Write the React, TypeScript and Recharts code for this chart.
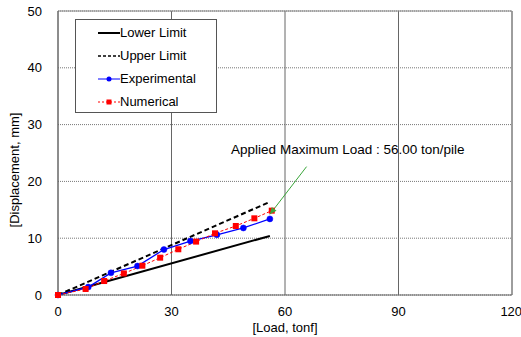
import React from "react";
import {
  LineChart, Line, XAxis, YAxis, CartesianGrid, Legend, ReferenceLine, ReferenceDot, Label,
} from "recharts";

const lowerLimit = [{ x: 0, y: 0 }, { x: 56, y: 10.4 }];
const upperLimit = [{ x: 0, y: 0 }, { x: 56, y: 16.4 }];
const expLoads = [0, 8, 14, 21, 28, 35, 42, 49, 56];
const expDisp = [0, 1.4, 3.9, 5.1, 8.0, 9.5, 10.6, 11.8, 13.4];
const numLoads = [0, 7.3, 12.2, 17.4, 22.3, 27.0, 31.8, 36.5, 41.5, 47.0, 51.9, 56.5];
const numDisp = [0, 1.06, 2.46, 3.8, 5.16, 6.57, 8.05, 9.4, 10.86, 12.15, 13.5, 14.85];
const arrowLine = [{ x: 56, y: 14.2 }, { x: 65.7, y: 22.6 }];
const xTicks = [0, 30, 60, 90, 120];
const yTicks = [0, 10, 20, 30, 40, 50];
const annotation = "Applied Maximum Load : 56.00  ton/pile";
const xTitle = "[Load, tonf]";
const yTitle = "[Displacement, mm]";

const experimental = expLoads.map((x, i) => ({ x, y: expDisp[i] }));
const numerical = numLoads.map((x, i) => ({ x, y: numDisp[i] }));

const FONT = "'Liberation Sans', Arial, sans-serif";

const SquareDot = (props: any) => {
  const { cx, cy } = props;
  if (cx == null || cy == null) return null;
  return <rect x={cx - 3} y={cy - 3} width={6} height={6} fill="#ff0000" />;
};

const ArrowDot = (props: any) => {
  const { cx, cy, index } = props;
  if (index !== 0 || cx == null) return null;
  const ang = Math.atan2(48, -37) * 180 / Math.PI;
  return (
    <g transform={`translate(${cx},${cy}) rotate(${ang})`}>
      <polygon points="0,0 -7,-3 -7,3" fill="#3aa63a" />
    </g>
  );
};

const YTitle = (props: any) => {
  const vb = props.viewBox || {};
  const cx = 14;
  const cy = (vb.y ?? 11) + (vb.height ?? 284) / 2 + 17;
  return (
    <text x={cx} y={cy} transform={`rotate(-90, ${cx}, ${cy})`} textAnchor="middle" dominantBaseline="central"
      style={{ fill: "#000", fontSize: 13, fontFamily: FONT }}>{yTitle}</text>
  );
};

const legendItems = [
  { name: "Lower Limit", color: "#000", dash: undefined, marker: null, w: 2 },
  { name: "Upper Limit", color: "#000", dash: "3 2", marker: null, w: 1.5 },
  { name: "Experimental", color: "#0000ff", dash: undefined, marker: "circle", w: 1 },
  { name: "Numerical", color: "#ff0000", dash: "2 2", marker: "square", w: 1 },
];

const LegendContent = () => (
  <div style={{ width: 140, height: 92, border: "1px solid #555", background: "#fff", fontFamily: FONT, fontSize: 13, color: "#000", boxSizing: "content-box" }}>
    {legendItems.map((it, i) => (
      <div key={i} style={{ display: "flex", alignItems: "center", height: 23, marginTop: i === 0 ? 1 : 0 }}>
        <svg width={22} height={10} style={{ marginLeft: 22 }}>
          <line x1={0} y1={5} x2={22} y2={5} stroke={it.color} strokeWidth={it.w} strokeDasharray={it.dash} />
          {it.marker === "circle" && <circle cx={11} cy={5} r={2.5} fill={it.color} />}
          {it.marker === "square" && <rect x={8.5} y={2.5} width={5} height={5} fill={it.color} />}
        </svg>
        <span>{it.name}</span>
      </div>
    ))}
  </div>
);

export default function App() {
  return (
    <div style={{ position: "absolute", left: 0, top: 0, width: 521, height: 337, background: "#fff" }}>
      <LineChart width={521} height={337} margin={{ top: 11, right: 9, left: 0, bottom: 0 }}>
        <CartesianGrid horizontal={true} vertical={false} stroke="#777" strokeDasharray="1 1" />
        <CartesianGrid horizontal={false} vertical={true} stroke="#666" />
        <XAxis
          type="number" dataKey="x" domain={[0, 120]} ticks={xTicks} allowDuplicatedCategory={false}
          height={42} stroke="#666" tickLine={false}
          tick={{ fill: "#000", fontSize: 13, fontFamily: FONT }} tickMargin={6}
        >
          <Label value={xTitle} position="insideBottom" offset={5} style={{ fill: "#000", fontSize: 13, fontFamily: FONT }} />
        </XAxis>
        <YAxis
          type="number" dataKey="y" domain={[0, 50]} ticks={yTicks} width={58}
          stroke="#666" tickLine={false}
          tick={{ fill: "#000", fontSize: 13, fontFamily: FONT }} tickMargin={10}
        >
          <Label content={<YTitle />} position="insideLeft" />
        </YAxis>
        <ReferenceLine y={50} stroke="#888" />
        <ReferenceLine x={120} stroke="#888" />
        <Legend content={<LegendContent />} layout="vertical" align="center" verticalAlign="middle" wrapperStyle={{ left: 75, top: 19, width: 142, height: 94 }} />
        <Line data={lowerLimit} dataKey="y" name="Lower Limit" stroke="#000" strokeWidth={2} dot={false} isAnimationActive={false} legendType="none" />
        <Line data={upperLimit} dataKey="y" name="Upper Limit" stroke="#000" strokeWidth={2} strokeDasharray="5 3" dot={false} isAnimationActive={false} legendType="none" />
        <Line data={experimental} dataKey="y" name="Experimental" stroke="#0000ff" strokeWidth={1.3} dot={{ r: 3, fill: "#0000ff", stroke: "#0000ff", strokeWidth: 0.5 }} isAnimationActive={false} legendType="none" />
        <Line data={numerical} dataKey="y" name="Numerical" stroke="#ff0000" strokeWidth={1} strokeDasharray="3 2" dot={<SquareDot />} isAnimationActive={false} legendType="none" />
        <Line data={arrowLine} dataKey="y" name="arrow" stroke="#3aa63a" strokeWidth={1} dot={<ArrowDot />} isAnimationActive={false} legendType="none" />
        <ReferenceDot x={76.6} y={25.7} r={0} fill="none" stroke="none">
          <Label value={annotation} position="center" style={{ fill: "#000", fontSize: 13.5, fontFamily: FONT }} />
        </ReferenceDot>
      </LineChart>
    </div>
  );
}
